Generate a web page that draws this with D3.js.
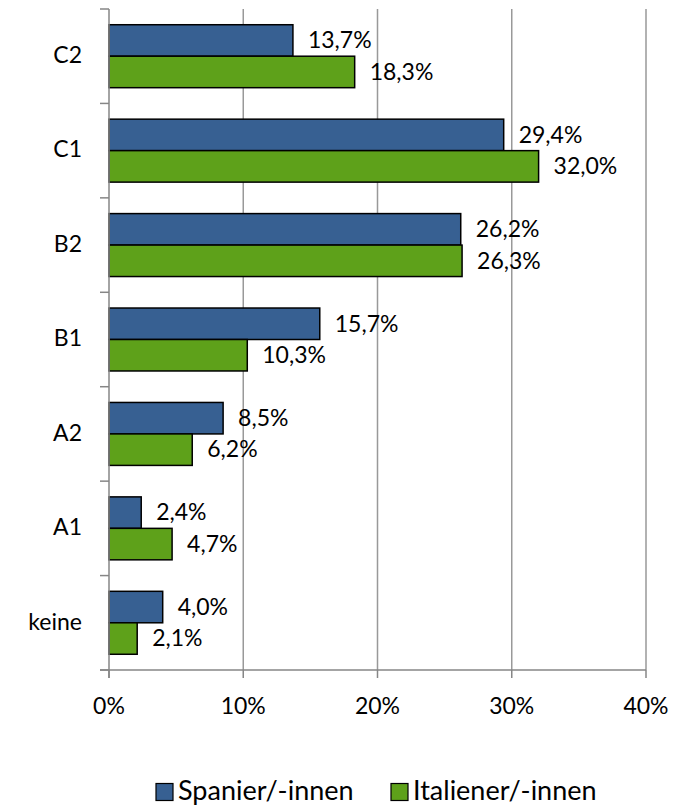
<!DOCTYPE html>
<html>
<head>
<meta charset="utf-8">
<script src="https://cdn.jsdelivr.net/npm/d3@7"></script>
<style>
  body { margin: 0; background: #fff; }
  svg text { font-family: Lato, "Open Sans", sans-serif; fill: #000; }
</style>
</head>
<body>
<svg id="chart" width="679" height="808"></svg>
<script>
const categories = ["C2", "C1", "B2", "B1", "A2", "A1", "keine"];
const series = ["Spanier/-innen", "Italiener/-innen"];
const spanier = [13.7, 29.4, 26.2, 15.7, 8.5, 2.4, 4.0];
const italiener = [18.3, 32.0, 26.3, 10.3, 6.2, 4.7, 2.1];
const xTicks = [0, 10, 20, 30, 40];
const colors = ["#376092", "#5ea11a"];

const fmt = v => v.toFixed(1).replace(".", ",") + "%";

const svg = d3.select("#chart");
const plotL = 109, plotR = 646, plotT = 9, plotB = 670;

const x = d3.scaleLinear().domain([0, 40]).range([plotL, plotR]);
const y = d3.scaleBand().domain(categories).range([plotT, plotB]);
const inner = d3.scaleBand().domain(series).range([0, y.bandwidth()]).paddingInner(0).paddingOuter(0.5);

// gridlines
svg.append("g")
  .selectAll("line")
  .data(xTicks.slice(1))
  .join("line")
  .attr("x1", d => x(d)).attr("x2", d => x(d))
  .attr("y1", plotT).attr("y2", plotB)
  .attr("stroke", "#999").attr("stroke-width", 1.5);

// bars
const rows = categories.map((c, i) => ({ c, vals: [spanier[i], italiener[i]] }));
const grp = svg.append("g").selectAll("g")
  .data(rows)
  .join("g")
  .attr("transform", d => `translate(0,${y(d.c)})`);

grp.selectAll("rect")
  .data(d => d.vals.map((v, j) => ({ v, s: series[j], j })))
  .join("rect")
  .attr("x", x(0))
  .attr("y", d => inner(d.s))
  .attr("width", d => x(d.v) - x(0))
  .attr("height", inner.bandwidth())
  .attr("fill", d => colors[d.j])
  .attr("stroke", "#000").attr("stroke-width", 1.5);

grp.selectAll("text")
  .data(d => d.vals.map((v, j) => ({ v, s: series[j] })))
  .join("text")
  .attr("x", d => x(d.v) + 15)
  .attr("y", d => inner(d.s) + inner.bandwidth() / 2 + 2)
  .attr("dominant-baseline", "middle")
  .attr("font-size", 23)
  .text(d => fmt(d.v));

// y axis
const ya = svg.append("g");
ya.append("line")
  .attr("x1", plotL).attr("x2", plotL).attr("y1", plotT).attr("y2", plotB + 8)
  .attr("stroke", "#868686").attr("stroke-width", 1.5);
ya.selectAll("line.t")
  .data(d3.range(categories.length + 1))
  .join("line").attr("class", "t")
  .attr("x1", plotL - 9).attr("x2", plotL)
  .attr("y1", i => plotT + i * y.step()).attr("y2", i => plotT + i * y.step())
  .attr("stroke", "#868686").attr("stroke-width", 1.5);
ya.selectAll("text")
  .data(categories)
  .join("text")
  .attr("x", 82)
  .attr("y", d => y(d) + y.bandwidth() / 2 + 1)
  .attr("text-anchor", "end")
  .attr("dominant-baseline", "middle")
  .attr("font-size", 23)
  .text(d => d);

// x axis
const xa = svg.append("g");
xa.append("line")
  .attr("x1", plotL - 9).attr("x2", plotR).attr("y1", plotB).attr("y2", plotB)
  .attr("stroke", "#868686").attr("stroke-width", 1.5);
xa.selectAll("line.t")
  .data(xTicks)
  .join("line").attr("class", "t")
  .attr("x1", d => x(d)).attr("x2", d => x(d))
  .attr("y1", plotB).attr("y2", plotB + 8)
  .attr("stroke", "#868686").attr("stroke-width", 1.5);
xa.selectAll("text")
  .data(xTicks)
  .join("text")
  .attr("x", d => x(d))
  .attr("y", 708)
  .attr("text-anchor", "middle")
  .attr("dominant-baseline", "middle")
  .attr("font-size", 23)
  .text(d => d + "%");

// legend
const legX = [156, 391];
const leg = svg.append("g").selectAll("g")
  .data(series)
  .join("g")
  .attr("transform", (d, i) => `translate(${legX[i]},792)`);
leg.append("rect")
  .attr("x", 0).attr("y", -8.5).attr("width", 17).attr("height", 17)
  .attr("fill", (d, i) => colors[i])
  .attr("stroke", "#000").attr("stroke-width", 1.2);
leg.append("text")
  .attr("x", 22).attr("y", 1)
  .attr("dominant-baseline", "middle")
  .attr("font-size", 27)
  .text(d => d);
</script>
</body>
</html>
